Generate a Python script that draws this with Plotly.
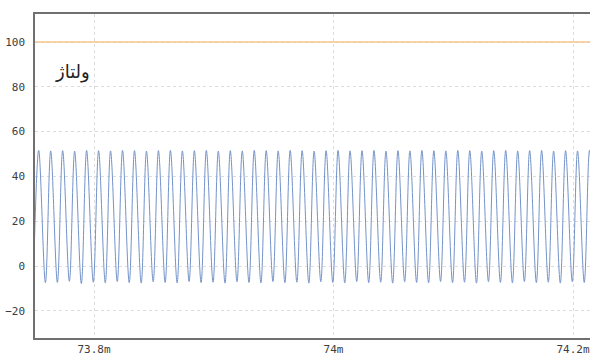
import plotly.graph_objects as go

# ---- data ----
# time of first visible peak and waveform period (seconds)
peak_t0 = 73.7538e-3
period = 10.0e-6
trough_offset = 5.6e-6          # trough follows each peak by this much

peak_vals = [51.6, 51.4, 51.5, 51.3, 51.6, 51.5, 51.4, 51.6, 51.5, 51.3,
             51.5, 51.6, 51.4, 51.5, 51.6, 51.3, 51.5, 51.4, 51.6, 51.5,
             51.4, 51.6, 51.5, 51.3, 51.5, 51.6, 51.4, 51.5, 51.6, 51.3,
             51.5, 51.4, 51.6, 51.5, 51.4, 51.6, 51.5, 51.3, 51.5, 51.6,
             51.4, 51.5, 51.6, 51.3, 51.5, 51.4, 51.6]
trough_vals = [-7.2, -7.4, -7.3, -6.8, -7.8, -7.2, -7.5, -6.9, -7.4, -7.6,
               -7.0, -7.3, -7.5, -6.9, -7.4, -7.2, -7.6, -7.0, -7.3, -7.5,
               -6.9, -7.4, -7.2, -7.6, -7.0, -7.3, -7.5, -6.9, -7.4, -7.2,
               -7.6, -7.0, -7.3, -7.5, -6.9, -7.4, -7.2, -7.6, -7.0, -7.3,
               -7.5, -6.9, -7.4, -7.2, -7.6, -7.0, -7.3, -7.4]

threshold = 100
x_range = [73.7507e-3, 74.2142e-3]
y_range = [-32.1, 112.5]
label_text = "ولتاژ"

# ---- build sample sequence (alternating troughs and peaks) ----
xs = [peak_t0 - period + trough_offset]
ys = [trough_vals[0]]
for k, pv in enumerate(peak_vals):
    xs.append(peak_t0 + k * period)
    ys.append(pv)
    xs.append(peak_t0 + k * period + trough_offset)
    ys.append(trough_vals[k + 1])

fig = go.Figure()
fig.add_trace(go.Scatter(
    x=x_range, y=[threshold, threshold], mode="lines",
    line=dict(color="#f4c68c", width=1.5), hoverinfo="skip"))
fig.add_trace(go.Scatter(
    x=xs, y=ys, mode="lines",
    line=dict(color="#7393c9", width=1, shape="spline", smoothing=1)))

axis_font = dict(family="DejaVu Sans Mono", size=11, color="#3c3c3c")
fig.update_layout(
    width=590, height=357,
    margin=dict(l=35, r=0, t=14, b=19),
    plot_bgcolor="white", paper_bgcolor="white",
    showlegend=False,
    xaxis=dict(range=x_range, tickformat="~s", dtick=0.2e-3, tick0=0,
               automargin=False, ticklabeloverflow="allow",
               showgrid=True, gridcolor="#dcdcdc", griddash="dot", gridwidth=1,
               showline=True, linecolor="#707070", linewidth=1.5, mirror=True,
               zeroline=False, ticks="", tickfont=axis_font, ticklabelstandoff=0),
    yaxis=dict(range=y_range, dtick=20, tick0=0,
               automargin=False,
               showgrid=True, gridcolor="#dcdcdc", griddash="dot", gridwidth=1,
               showline=True, linecolor="#707070", linewidth=1.5,
               zeroline=False, ticks="", tickfont=axis_font, ticklabelstandoff=6),
    annotations=[dict(text=label_text, xref="paper", yref="paper",
                      x=0.0667, y=0.821, xanchor="center", yanchor="middle",
                      showarrow=False,
                      font=dict(family="DejaVu Sans", size=18, color="#222"))],
)

# remove the browser's default 8px page margin so the figure fills the window
page_fix = ("document.body.style.margin='0';"
            "document.body.style.overflow='hidden';"
            "document.documentElement.style.overflow='hidden';")
fig.write_html("out.html", post_script=page_fix,
               config={"displayModeBar": False})
